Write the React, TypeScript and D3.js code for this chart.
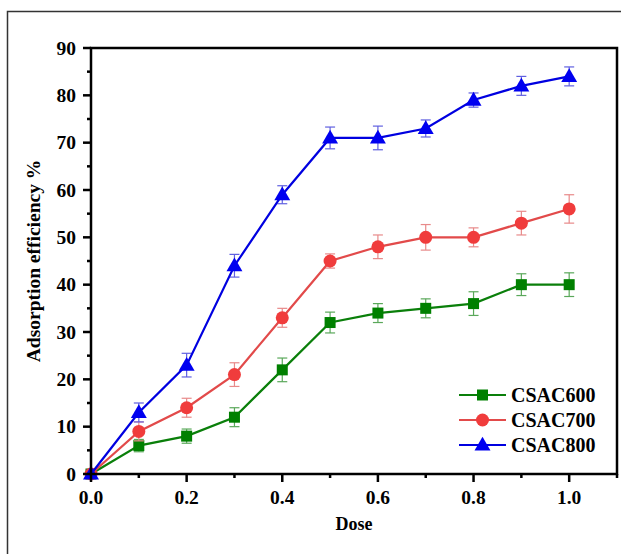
import React from "react";
import * as d3 from "d3";

const doses = [0, 0.1, 0.2, 0.3, 0.4, 0.5, 0.6, 0.7, 0.8, 0.9, 1.0];
const csac600 = [0, 6, 8, 12, 22, 32, 34, 35, 36, 40, 40];
const csac600Err = [0, 1.3, 1.5, 2, 2.5, 2.2, 2, 2, 2.5, 2.3, 2.5];
const csac700 = [0, 9, 14, 21, 33, 45, 48, 50, 50, 53, 56];
const csac700Err = [0, 2, 2, 2.5, 2, 1.5, 2.5, 2.7, 2, 2.5, 3];
const csac800 = [0, 13, 23, 44, 59, 71, 71, 73, 79, 82, 84];
const csac800Err = [0, 2, 2.5, 2.4, 1.9, 2.3, 2.5, 1.8, 1.5, 2, 2];
const seriesNames = ["CSAC600", "CSAC700", "CSAC800"];
const yTicks = [0, 10, 20, 30, 40, 50, 60, 70, 80, 90];
const xTicks = [0, 0.2, 0.4, 0.6, 0.8, 1.0];

const FONT = "'Liberation Serif', 'Times New Roman', serif";

export default function App() {
  const left = 91, right = 617, top = 48, bottom = 474;
  const x = d3.scaleLinear().domain([0, 1.1]).range([left, right]);
  const y = d3.scaleLinear().domain([0, 90]).range([bottom, top]);

  const series = [
    { name: seriesNames[0], vals: csac600, err: csac600Err, line: "#0a7f0a", mark: "#008000", errc: "#5aa85a", shape: "square" },
    { name: seriesNames[1], vals: csac700, err: csac700Err, line: "#e24a4a", mark: "#f03c3c", errc: "#e88a8a", shape: "circle" },
    { name: seriesNames[2], vals: csac800, err: csac800Err, line: "#0000e0", mark: "#0000f0", errc: "#6060e0", shape: "triangle" },
  ];

  const lineGen = d3.line<number>().x((_, i) => x(doses[i])).y((v) => y(v));

  const marker = (shape: string, cx: number, cy: number, color: string, key: string) => {
    if (shape === "square") return <rect key={key} x={cx - 5.5} y={cy - 5.5} width={11} height={11} fill={color} />;
    if (shape === "circle") return <circle key={key} cx={cx} cy={cy} r={6.5} fill={color} />;
    const p = d3.symbol(d3.symbolTriangle, 110)();
    return <path key={key} d={p || ""} transform={`translate(${cx},${cy + 1})`} fill={color} />;
  };

  const yMinor = d3.range(5, 90, 10);
  const xMinor = [0.1, 0.3, 0.5, 0.7, 0.9, 1.1];

  return (
    <svg width={621} height={554} style={{ position: "absolute", left: 0, top: 0, background: "#fff" }} fontFamily={FONT}>
      <rect x={0} y={0} width={621} height={554} fill="#fff" />
      {/* outer frame */}
      <path d="M7.5,560 L7.5,11.5 L630,11.5" fill="none" stroke="#333" strokeWidth={1.5} />

      {/* series */}
      {series.map((s) => (
        <g key={s.name}>
          {s.vals.map((v, i) =>
            i === 0 ? null : (
              <g key={i} stroke={s.errc} strokeWidth={1.2}>
                <line x1={x(doses[i])} x2={x(doses[i])} y1={y(v - s.err[i])} y2={y(v + s.err[i])} />
                <line x1={x(doses[i]) - 5} x2={x(doses[i]) + 5} y1={y(v - s.err[i])} y2={y(v - s.err[i])} />
                <line x1={x(doses[i]) - 5} x2={x(doses[i]) + 5} y1={y(v + s.err[i])} y2={y(v + s.err[i])} />
              </g>
            )
          )}
          <path d={lineGen(s.vals) || ""} fill="none" stroke={s.line} strokeWidth={2.2} />
          {s.vals.map((v, i) => marker(s.shape, x(doses[i]), y(v), s.mark, `${s.name}-${i}`))}
        </g>
      ))}

      {/* plot frame */}
      <rect x={left} y={top} width={right - left} height={bottom - top} fill="none" stroke="#000" strokeWidth={2.5} />

      {/* y ticks */}
      {yTicks.map((t) => (
        <g key={t}>
          <line x1={left - 8} x2={left} y1={y(t)} y2={y(t)} stroke="#000" strokeWidth={2.5} />
          <text x={left - 15} y={y(t) + 6.5} textAnchor="end" fontSize={19.5} fontWeight="bold">{t}</text>
        </g>
      ))}
      {yMinor.map((t) => (
        <line key={t} x1={left - 4} x2={left} y1={y(t)} y2={y(t)} stroke="#000" strokeWidth={2.5} />
      ))}
      {/* x ticks */}
      {xTicks.map((t) => (
        <g key={t}>
          <line x1={x(t)} x2={x(t)} y1={bottom} y2={bottom + 8} stroke="#000" strokeWidth={2.5} />
          <text x={x(t)} y={bottom + 30} textAnchor="middle" fontSize={19.5} fontWeight="bold">{t.toFixed(1)}</text>
        </g>
      ))}
      {xMinor.map((t) => (
        <line key={t} x1={x(t)} x2={x(t)} y1={bottom} y2={bottom + 4} stroke="#000" strokeWidth={2.5} />
      ))}

      {/* axis titles */}
      <text x={(left + right) / 2} y={530} textAnchor="middle" fontSize={18} fontWeight="bold">Dose</text>
      <text transform={`translate(40,${(top + bottom) / 2}) rotate(-90)`} textAnchor="middle" fontSize={19.5} fontWeight="bold">
        Adsorption efficiency %
      </text>

      {/* legend */}
      {series.map((s, i) => {
        const ly = 395 + i * 25;
        return (
          <g key={s.name}>
            <line x1={459} x2={506} y1={ly} y2={ly} stroke={s.line} strokeWidth={2.2} />
            {marker(s.shape, 482.5, ly, s.mark, `leg-${i}`)}
            <text x={511} y={ly + 7} fontSize={20} fontWeight="bold">{s.name}</text>
          </g>
        );
      })}
    </svg>
  );
}
